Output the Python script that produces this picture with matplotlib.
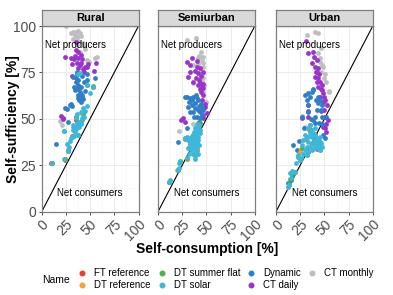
import matplotlib
matplotlib.use("Agg")
import matplotlib.pyplot as plt
from matplotlib.lines import Line2D

plt.rcParams['font.family'] = ['Liberation Sans', 'DejaVu Sans']

panels = ["Rural", "Semiurban", "Urban"]
series = ["FT reference", "DT reference", "DT summer flat", "DT solar", "Dynamic", "CT daily", "CT monthly"]
colors = ["#E0413A", "#F5A030", "#4CB050", "#3DB8DB", "#2F7EC7", "#9933CC", "#BEBEBE"]
ticks = [0, 25, 50, 75, 100]
x_title = "Self-consumption [%]"
y_title = "Self-sufficiency [%]"

# ---- Rural ----
rural_ft = [(35.5, 51), (35.5, 49.4), (42.5, 52.6), (53.3, 67), (33, 45.5), (38.5, 48), (24, 28), (10, 26), (27, 33), (31, 40.5)]
rural_dtref = [(35.2, 50.8), (42, 52.8), (53, 67.2), (32.6, 45.4), (38.7, 48.3), (23.7, 28.2), (10.2, 26.2), (27.4, 32.8), (31, 40.1), (46.5, 68.4)]
rural_summer = [(53.2, 67.6), (23.2, 43.6), (35.7, 51.2), (42.3, 53), (32.9, 45.7), (24, 28.3), (10.3, 26.3), (27.5, 32.6), (38, 41.5), (46.6, 68)]
rural_solar = [(23.1, 43.5), (32.8, 46.7), (34.5, 45.8), (32.8, 44), (39, 48.5), (41.5, 49.4), (40.4, 48.1), (36.3, 47.6),
               (31.1, 40.4), (33, 41), (30.4, 39.9), (38, 41.3), (25.9, 36.3), (27.6, 32.7), (23.4, 28.4), (10.4, 26.4),
               (38, 74), (40, 74.5), (46.6, 68.2), (53.5, 67.3), (50, 63.8), (43.1, 55.7), (40.4, 53.5), (36.3, 52.4),
               (45, 54), (35, 44.5), (42, 50.5), (44, 51), (37, 46), (29, 38), (34, 43), (41, 47), (39, 45.5), (28, 35),
               (47, 57), (35.5, 50.5)]
rural_dynamic = [(36.3, 74.2), (32.8, 72.7), (35.6, 70), (38, 68.2), (33.5, 67.3), (39, 66.4), (34.5, 65.5), (39.7, 64.6),
                 (41.4, 61.9), (43.1, 60.5), (39, 60), (47.3, 70.9), (55.2, 71.8), (47.3, 74.2), (29.3, 57.5), (31, 57),
                 (24.1, 55.7), (27.6, 48.5), (14.8, 36.4), (42, 73), (37, 63), (44, 70), (36, 75), (26, 55.3), (40.7, 59),
                 (35, 72), (38, 71), (41, 67), (36, 66), (42, 63), (45, 65), (30, 58), (37, 61)]
rural_daily = [(24.5, 83.5), (35.5, 91.5), (35.5, 87), (37.5, 86), (30, 82.6), (38, 82.5), (42, 82), (31, 79.7), (40, 79),
               (45, 78), (47, 78), (56, 80), (54, 76), (31, 73), (38, 77.5), (44, 75), (20, 51.5), (21.5, 50.5), (22, 50),
               (33, 82), (40.7, 84.5), (48, 79.6), (34, 84), (36, 80), (41, 80), (43, 77)]
rural_monthly = [(25, 100), (32, 97), (35.5, 97), (37.6, 97.5), (39.7, 96), (36, 94), (41, 94.6), (32, 93), (43, 91),
                 (45, 87.5), (47, 81.7), (49, 80.8), (55, 83), (40, 86), (19, 48.8), (21, 46.7), (36, 90), (57, 83.5),
                 (48.3, 80.8), (34, 95), (38, 92), (44, 89), (30, 96)]

# ---- Semiurban ----
semi_ft = [(11, 15.8), (38.3, 31.4), (28, 39.3), (21, 22.3), (36, 41), (40, 33), (33, 36.6), (42, 46.4), (30, 28.6), (22.5, 26.8)]
semi_dtref = [(11.2, 16), (38, 31.6), (28.2, 39.4), (40.3, 33.5), (36.3, 40.8), (30.2, 28.6), (22.6, 27), (33.3, 36.7), (42.5, 46.5), (20, 22.3)]
semi_summer = [(20.5, 22.6), (11.1, 16.1), (39.5, 32.2), (28.1, 39.6), (36.1, 41.1), (42.6, 46.6), (30.3, 28.9), (22.8, 27.1), (33, 36.9), (43, 47.6)]
semi_solar = [(28, 39.5), (29.7, 40.4), (31.5, 38.6), (33.1, 36.8), (34.9, 35.9), (36.6, 35), (37.3, 34.1), (39.3, 33.2),
              (39.3, 32), (40, 35), (38.3, 37.7), (36.6, 39.5), (35.9, 41.3), (40, 43.1), (41.7, 44.9), (42.8, 46.7),
              (40.7, 45.8), (33.1, 35), (31.5, 34.1), (30.4, 28.8), (22.9, 27), (21.2, 26.2), (22.2, 23.4), (20.2, 22.5),
              (12, 17), (11, 16.2), (41.7, 40.4), (43.4, 42.2), (37, 36), (38, 38), (39, 40), (40, 37), (41, 38.5),
              (39, 42), (37, 43), (35, 38), (34, 33), (36, 31), (38, 30), (41, 31), (42, 36), (43, 44), (40, 47),
              (38, 45), (32, 31), (34, 40), (38, 28.5)]
semi_dynamic = [(29.7, 62), (33.1, 61.4), (36.6, 62), (40, 61.4), (41.7, 60.2), (38.3, 58.4), (34.9, 57.5), (31.5, 56.5),
                (33.1, 53.9), (36.6, 53.5), (41.7, 54.8), (43.4, 53.5), (45.1, 55.7), (46.8, 54.8), (40, 51.2), (43.4, 50.3),
                (20.2, 37.4), (30.4, 44.9), (42.8, 48.5), (28.4, 61.6), (35, 60), (38, 56), (44, 58), (39, 63), (32, 59),
                (37, 51), (45, 52), (42, 57)]
semi_daily = [(29.7, 80.8), (33, 79), (40, 78), (43.4, 77.2), (41.7, 74.5), (33.1, 75.4), (31.5, 72.7), (42.8, 70.9),
              (43.4, 69.1), (45.1, 67.3), (36.6, 70), (46.8, 66.4), (44.1, 64.6), (46.8, 62.8), (48.5, 56.5), (50.3, 53),
              (46.8, 52), (25.6, 50.3), (23.6, 49.4), (28, 48.1), (46, 50.6), (34.9, 82.6), (40, 81.2), (38, 76),
              (44, 73), (41, 68), (47, 69), (45, 60), (49, 58), (43, 66), (39, 72), (46, 75)]
semi_monthly = [(30.4, 92.5), (39.3, 93.4), (43.4, 83.5), (41.7, 82.6), (46.8, 83.5), (45, 81.2), (41.7, 79.4), (46.8, 78),
                (36.6, 79), (46, 74.5), (46.8, 71.8), (35.9, 69.1), (48.5, 58.4), (46, 64.6), (21.2, 43.5), (35.9, 47),
                (41.3, 47.6), (50, 59.2), (44, 86), (47, 80), (44, 76), (42, 84), (48, 68), (45, 70)]

# ---- Urban ----
urban_ft = [(40.5, 41.8), (33, 32), (36.5, 44), (42, 34), (24.7, 27.6), (19.7, 21.3), (13.5, 14.2), (31.5, 39.3), (43.8, 38.4), (35, 46.5)]
urban_dtref = [(26, 33.8), (24.5, 32), (36.7, 36.6), (40, 35.7), (33.5, 44.7), (19.4, 21.3), (12.2, 13.3), (28, 38.4), (45.2, 33), (42.2, 39.3)]
urban_summer = [(26.5, 34.4), (16.2, 19.8), (13.1, 14.8), (14.6, 17.5), (35.2, 43.3), (38.7, 42), (31.8, 30.7), (23.2, 29.4), (47, 35.2), (40.3, 41.5)]
urban_solar = [(33.3, 44.9), (35, 43.1), (36.8, 44), (38.5, 42.2), (40.2, 41.3), (42, 39.5), (43.6, 38.6), (31.6, 39.5),
               (33.3, 37.7), (36.8, 36.8), (40.2, 35.9), (42, 34.1), (43.6, 35), (36.8, 33.2), (33.3, 32.3), (31.6, 30.5),
               (23, 30.5), (24.7, 27.8), (23, 29.6), (19.6, 21.5), (14.4, 20.7), (13.4, 14.4), (12, 13.5), (28.2, 38.6),
               (35, 46.7), (45.4, 33.2), (47.1, 35), (29.9, 41.3), (34, 41), (37, 40), (39, 38), (41, 37), (44, 36.5),
               (38, 34), (35, 35), (32, 35), (30, 33), (28, 31), (26, 29), (21, 26), (17, 22), (15, 18), (45, 40),
               (46, 37), (40, 45), (27, 36)]
urban_dynamic = [(29.9, 62.8), (33.3, 63.8), (36.8, 64.6), (38.5, 66), (43.6, 61.9), (45.4, 60.2), (43.6, 58.4), (47.1, 57.5),
                 (33.3, 53.5), (40.2, 51.2), (38.5, 65.5), (31.6, 60.2), (33.3, 57.5), (26.5, 50.8), (51.2, 51.2), (38.5, 49.4),
                 (40.2, 47.6), (47.1, 51.2), (48.8, 41.3), (50.5, 39.5), (17.8, 35.9), (21.3, 33.2), (15.5, 17), (12.7, 15.3),
                 (45.4, 37.7), (35, 62), (41, 60), (42, 55), (46, 55), (36, 50), (44, 48), (29, 45), (24, 38), (48, 47)]
urban_daily = [(30.6, 91.9), (33.3, 85.3), (39.5, 83.5), (42, 81.7), (40.2, 78), (43.6, 77.2), (42, 75.4), (40.2, 72.7),
               (43.6, 71.8), (45.4, 70), (47.1, 68.2), (42, 70), (43.6, 67.3), (47.1, 65.5), (48.8, 63.8), (49.8, 61.9),
               (50.5, 60.2), (48.8, 58.9), (52.3, 57.5), (33.3, 57.5), (33.3, 54.2), (50.5, 51.2), (53.3, 49.4), (26.5, 50.6),
               (33.3, 51.2), (48.8, 45.8), (50.5, 45), (51.2, 43.1), (37, 80), (44, 74), (46, 66), (45, 62), (50, 55),
               (47, 54), (52, 47), (38, 86), (41, 75)]
urban_monthly = [(31.6, 95.2), (40.2, 96.6), (43, 96), (45.4, 80.8), (47.1, 79), (49.8, 71.8), (54.6, 64.6), (50.5, 58.4),
                 (26.5, 51.7), (46.4, 75.4), (43.6, 85.3), (48.8, 78), (54.6, 65.2), (29.9, 45.8), (45, 83), (51, 74),
                 (52, 70), (47, 88)]

panel_data = {
    "Rural": [rural_ft, rural_dtref, rural_summer, rural_solar, rural_dynamic, rural_daily, rural_monthly],
    "Semiurban": [semi_ft, semi_dtref, semi_summer, semi_solar, semi_dynamic, semi_daily, semi_monthly],
    "Urban": [urban_ft, urban_dtref, urban_summer, urban_solar, urban_dynamic, urban_daily, urban_monthly],
}
draw_order = [6, 5, 4, 0, 1, 2, 3]

W, H = 393, 295
fig = plt.figure(figsize=(W / 100, H / 100), dpi=100)

lefts = [41.7, 158.0, 276.0]
pw = 96.8
ptop, pbot = 26.0, 211.7
strip_top = 9.5
border = "#7F7F7F"
tick_col = "#4D4D4D"

for i, name in enumerate(panels):
    ax = fig.add_axes([lefts[i] / W, 1 - pbot / H, pw / W, (pbot - ptop) / H])
    ax.set_xlim(0, 100)
    ax.set_ylim(0, 100)
    ax.set_xticks(ticks)
    ax.set_yticks(ticks)
    ax.set_xticks([12.5, 37.5, 62.5, 87.5], minor=True)
    ax.set_yticks([12.5, 37.5, 62.5, 87.5], minor=True)
    ax.grid(which='major', color='#EBEBEB', lw=0.7)
    ax.grid(which='minor', color='#F4F4F4', lw=0.4)
    ax.set_axisbelow(True)
    ax.tick_params(which='minor', length=0)
    ax.tick_params(which='major', length=2.5, width=0.6, color='#333333', labelcolor=tick_col,
                   labelsize=10, pad=1.5)
    for sp in ax.spines.values():
        sp.set_color(border)
        sp.set_linewidth(0.9)
    ax.plot([0, 100], [0, 100], color='black', lw=0.8, zorder=2)
    for k in draw_order:
        pts = panel_data[name][k]
        ax.scatter([p[0] for p in pts], [p[1] for p in pts], s=12, color=colors[k], lw=0, zorder=3)
    ax.text(35, 90, "Net producers", ha='center', va='center', fontsize=7, zorder=4)
    ax.text(50, 10, "Net consumers", ha='center', va='center', fontsize=7, zorder=4)
    ax.set_xticklabels([str(t) for t in ticks], rotation=45, ha='right', va='top', rotation_mode='anchor')
    if i == 0:
        ax.set_yticklabels([str(t) for t in ticks])
    else:
        ax.set_yticklabels([])
        ax.tick_params(axis='y', length=0)
    # strip
    sax = fig.add_axes([lefts[i] / W, 1 - ptop / H, pw / W, (ptop - strip_top) / H])
    sax.set_facecolor('#D9D9D9')
    sax.set_xticks([])
    sax.set_yticks([])
    for sp in sax.spines.values():
        sp.set_color(border)
        sp.set_linewidth(0.9)
    sax.text(0.5, 0.5, name, ha='center', va='center', fontsize=8, fontweight='bold', transform=sax.transAxes)

fig.text(207.5 / W, 1 - 249 / H, x_title, ha='center', va='center', fontsize=10, fontweight='bold')
fig.text(13 / W, 1 - 119 / H, y_title, ha='center', va='center', fontsize=10, fontweight='bold', rotation=90)

# legend
fig.text(41.7 / W, 1 - 280 / H, "Name", ha='left', va='center', fontsize=7.5)
mx = [81.7, 161.7, 250.7, 311.7]
ry = [273.3, 285.0]
for k, lab in enumerate(series):
    c, r = k // 2, k % 2
    fig.add_artist(Line2D([mx[c] / W], [1 - ry[r] / H], marker='o', markersize=3.3, color=colors[k], lw=0,
                          transform=fig.transFigure))
    fig.text((mx[c] + 12.6) / W, 1 - ry[r] / H, lab, ha='left', va='center', fontsize=7)

fig.savefig("out.png", dpi=100)
